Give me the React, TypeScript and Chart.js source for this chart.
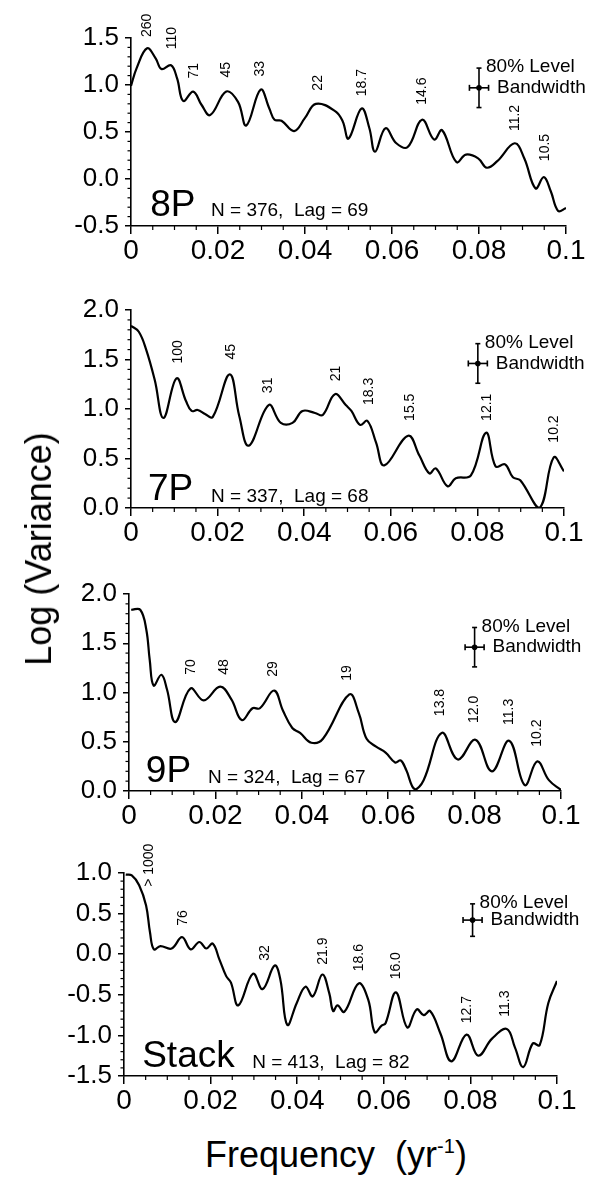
import React, { useEffect, useRef } from "react";
import { Chart, registerables } from "chart.js";
Chart.register(...registerables);

const FONT = '"Liberation Sans", Arial, Helvetica, sans-serif';

// shared x axis
const xTickValues = [0, 0.02, 0.04, 0.06, 0.08, 0.1];
const xTickLabels = ["0", "0.02", "0.04", "0.06", "0.08", "0.1"];

// ---------- 8P ----------
const freq8P = [0, 0.0013, 0.0037, 0.0057, 0.007, 0.0092, 0.0106, 0.012, 0.0143, 0.0162, 0.0182, 0.0219, 0.0246, 0.0265, 0.0298, 0.0318, 0.033, 0.0346, 0.0375, 0.04, 0.0425, 0.047, 0.0487, 0.05, 0.053, 0.0548, 0.0561, 0.0585, 0.061, 0.0636, 0.0669, 0.0697, 0.0715, 0.0748, 0.077, 0.0798, 0.0818, 0.0842, 0.0882, 0.0904, 0.093, 0.0949, 0.0965, 0.0982, 0.1];
const logVar8P = [0.99, 1.18, 1.39, 1.28, 1.17, 1.21, 1.07, 0.83, 0.93, 0.79, 0.68, 0.93, 0.82, 0.57, 0.95, 0.75, 0.63, 0.62, 0.51, 0.65, 0.8, 0.72, 0.61, 0.43, 0.75, 0.54, 0.29, 0.54, 0.38, 0.34, 0.63, 0.42, 0.52, 0.18, 0.26, 0.22, 0.12, 0.19, 0.38, 0.22, -0.1, 0.02, -0.13, -0.34, -0.31];
const yTicks8P = [-0.5, 0, 0.5, 1.0, 1.5];
const yTickLabels8P = ["-0.5", "0.0", "0.5", "1.0", "1.5"];
const periods8P = ["260", "110", "71", "45", "33", "22", "18.7", "14.6", "11.2", "10.5"];
const periodFreq8P = [0.0037, 0.0094, 0.0145, 0.0219, 0.0298, 0.043, 0.0531, 0.0669, 0.0884, 0.0951];
const periodBase8P = [1.51, 1.38, 1.07, 1.08, 1.09, 0.94, 0.88, 0.79, 0.51, 0.19];

// ---------- 7P ----------
const freq7P = [0, 0.0018, 0.0035, 0.0055, 0.0075, 0.0105, 0.0127, 0.014, 0.0154, 0.0171, 0.0189, 0.0228, 0.025, 0.0272, 0.0318, 0.0346, 0.0373, 0.0396, 0.0425, 0.0443, 0.0471, 0.0496, 0.0509, 0.0529, 0.0546, 0.0566, 0.0585, 0.064, 0.0666, 0.0689, 0.0704, 0.0731, 0.075, 0.0785, 0.082, 0.0842, 0.0864, 0.0882, 0.0899, 0.0943, 0.0976, 0.1];
const logVar7P = [1.84, 1.78, 1.6, 1.29, 0.91, 1.31, 1.08, 0.98, 0.99, 0.95, 0.92, 1.35, 0.93, 0.63, 1.04, 0.86, 0.86, 0.98, 0.96, 0.94, 1.15, 1.04, 0.98, 0.84, 0.88, 0.66, 0.43, 0.73, 0.53, 0.35, 0.4, 0.22, 0.3, 0.33, 0.76, 0.42, 0.44, 0.31, 0.28, 0.0, 0.51, 0.37];
const yTicks7P = [0, 0.5, 1.0, 1.5, 2.0];
const yTickLabels7P = ["0.0", "0.5", "1.0", "1.5", "2.0"];
const periods7P = ["100", "45", "31", "21", "18.3", "15.5", "12.1", "10.2"];
const periodFreq7P = [0.0108, 0.0232, 0.0316, 0.0474, 0.055, 0.0645, 0.0823, 0.0978];
const periodBase7P = [1.46, 1.5, 1.16, 1.28, 1.04, 0.88, 0.88, 0.66];

// ---------- 9P ----------
const freq9P = [0.0005, 0.0026, 0.004, 0.0048, 0.0057, 0.0075, 0.0088, 0.0107, 0.0142, 0.0173, 0.0211, 0.0237, 0.0261, 0.0286, 0.0303, 0.0336, 0.0356, 0.0378, 0.0396, 0.0422, 0.0449, 0.051, 0.0532, 0.055, 0.0572, 0.0594, 0.0616, 0.0629, 0.0642, 0.0661, 0.0682, 0.0724, 0.0761, 0.0802, 0.084, 0.088, 0.0916, 0.0945, 0.0972, 0.1];
const logVar9P = [1.84, 1.84, 1.64, 1.33, 1.07, 1.18, 1.03, 0.7, 1.04, 0.92, 1.06, 0.93, 0.72, 0.84, 0.84, 1.02, 0.82, 0.64, 0.59, 0.49, 0.53, 0.98, 0.79, 0.53, 0.45, 0.39, 0.29, 0.31, 0.21, 0.02, 0.11, 0.59, 0.32, 0.52, 0.2, 0.51, 0.06, 0.3, 0.11, 0.01];
const yTicks9P = [0, 0.5, 1.0, 1.5, 2.0];
const yTickLabels9P = ["0.0", "0.5", "1.0", "1.5", "2.0"];
const periods9P = ["70", "48", "29", "19", "13.8", "12.0", "11.3", "10.2"];
const periodFreq9P = [0.0145, 0.022, 0.0334, 0.0506, 0.0721, 0.08, 0.088, 0.0945];
const periodBase9P = [1.18, 1.18, 1.16, 1.12, 0.76, 0.69, 0.67, 0.45];

// ---------- Stack ----------
const freqStack = [0.0004, 0.0018, 0.0035, 0.0051, 0.006, 0.0069, 0.0084, 0.011, 0.0134, 0.0154, 0.0174, 0.019, 0.0205, 0.022, 0.0236, 0.0247, 0.0264, 0.0298, 0.032, 0.0348, 0.0361, 0.0377, 0.0399, 0.0419, 0.0436, 0.0458, 0.0474, 0.0483, 0.0493, 0.0509, 0.0542, 0.0564, 0.0579, 0.0595, 0.0604, 0.0628, 0.0654, 0.0676, 0.0692, 0.0707, 0.0731, 0.0756, 0.0791, 0.0818, 0.085, 0.0884, 0.0903, 0.0922, 0.0944, 0.096, 0.098, 0.1];
const logVarStack = [0.98, 0.97, 0.85, 0.6, 0.27, 0.06, 0.1, 0.07, 0.21, 0.06, 0.15, 0.07, 0.13, -0.06, -0.27, -0.35, -0.63, -0.24, -0.43, -0.14, -0.31, -0.87, -0.6, -0.4, -0.52, -0.25, -0.48, -0.7, -0.63, -0.71, -0.36, -0.56, -0.96, -0.88, -0.85, -0.47, -0.9, -0.68, -0.75, -0.7, -0.98, -1.32, -0.99, -1.25, -1.04, -0.92, -1.15, -1.39, -1.1, -1.12, -0.6, -0.33];
const yTicksStack = [-1.5, -1.0, -0.5, 0, 0.5, 1.0];
const yTickLabelsStack = ["-1.5", "-1.0", "-0.5", "0.0", "0.5", "1.0"];
const periodsStack = ["> 1000", "76", "32", "21.9", "18.6", "16.0", "12.7", "11.3"];
const periodFreqStack = [0.0057, 0.0137, 0.0326, 0.046, 0.0542, 0.0628, 0.0793, 0.0881];
const periodBaseStack = [0.83, 0.35, -0.08, -0.13, -0.21, -0.31, -0.85, -0.77];

// panel names / info
const panelNames = ["8P", "7P", "9P", "Stack"];
const panelInfo = ["N = 376,  Lag = 69", "N = 337,  Lag = 68", "N = 324,  Lag = 67", "N = 413,  Lag = 82"];
// error bar centre (freq, logVar) and half sizes
const barCentreFreq = [0.08, 0.0801, 0.08, 0.0805];
const barCentreVal = [0.97, 1.46, 1.46, 0.42];
const barHalfVal = [0.21, 0.2, 0.2, 0.2];
const barHalfFreq = [0.0022, 0.0022, 0.0022, 0.0022];
// label anchors in data coords
const nameAnchor = [[0.0044, -0.39], [0.0039, 0.08], [0.0039, 0.09], [0.0042, -1.39]];
const infoAnchor = [[0.0184, -0.39], [0.0185, 0.06], [0.0183, 0.08], [0.0296, -1.4]];

const series = [
  { freq: freq8P, v: logVar8P, yt: yTicks8P, yl: yTickLabels8P, p: periods8P, pf: periodFreq8P, pb: periodBase8P },
  { freq: freq7P, v: logVar7P, yt: yTicks7P, yl: yTickLabels7P, p: periods7P, pf: periodFreq7P, pb: periodBase7P },
  { freq: freq9P, v: logVar9P, yt: yTicks9P, yl: yTickLabels9P, p: periods9P, pf: periodFreq9P, pb: periodBase9P },
  { freq: freqStack, v: logVarStack, yt: yTicksStack, yl: yTickLabelsStack, p: periodsStack, pf: periodFreqStack, pb: periodBaseStack },
];

// layout (pixels)
const layouts = [
  { canvasTop: 0, canvasHeight: 265, left: 131, right: 566, top: 38, bottom: 226 },
  { canvasTop: 272, canvasHeight: 278, left: 131, right: 564, top: 310, bottom: 508 },
  { canvasTop: 556, canvasHeight: 274, left: 129, right: 561, top: 594, bottom: 791 },
  { canvasTop: 830, canvasHeight: 290, left: 124, right: 557, top: 873, bottom: 1076 },
];

function makeOverlay(i: number) {
  const s = series[i];
  return {
    id: "overlay" + i,
    afterDraw(chart: any) {
      const ctx = chart.ctx as CanvasRenderingContext2D;
      const xs = chart.scales.x;
      const ys = chart.scales.y;
      const a = chart.chartArea;
      const line = (x1: number, y1: number, x2: number, y2: number) => {
        ctx.beginPath();
        ctx.moveTo(x1, y1);
        ctx.lineTo(x2, y2);
        ctx.stroke();
      };
      ctx.save();
      ctx.strokeStyle = "#000";
      ctx.fillStyle = "#000";
      ctx.lineWidth = 1.2;
      // minor y ticks (every 0.1)
      const yMin = s.yt[0];
      const yMax = s.yt[s.yt.length - 1];
      const nY = Math.round((yMax - yMin) / 0.1);
      for (let k = 0; k <= nY; k++) {
        if (k % 5 === 0) continue;
        const py = ys.getPixelForValue(yMin + k * 0.1);
        line(a.left - 3.5, py, a.left, py);
      }
      // minor x ticks (every 0.005)
      for (let k = 0; k <= 20; k++) {
        if (k % 4 === 0) continue;
        const px = xs.getPixelForValue(k * 0.005);
        line(px, a.bottom, px, a.bottom + 4);
      }
      // period labels (rotated)
      ctx.font = `14px ${FONT}`;
      ctx.textAlign = "left";
      ctx.textBaseline = "middle";
      s.p.forEach((t, k) => {
        const x = xs.getPixelForValue(s.pf[k]);
        const y = ys.getPixelForValue(s.pb[k]);
        ctx.save();
        ctx.translate(x, y);
        ctx.rotate(-Math.PI / 2);
        ctx.fillText(t, 0, 0);
        ctx.restore();
      });
      // panel name & info
      ctx.textBaseline = "alphabetic";
      ctx.font = `37px ${FONT}`;
      ctx.fillText(panelNames[i], xs.getPixelForValue(nameAnchor[i][0]), ys.getPixelForValue(nameAnchor[i][1]));
      ctx.font = `19px ${FONT}`;
      ctx.fillText(panelInfo[i], xs.getPixelForValue(infoAnchor[i][0]), ys.getPixelForValue(infoAnchor[i][1]));
      // error bar
      const cx = xs.getPixelForValue(barCentreFreq[i]);
      const cy = ys.getPixelForValue(barCentreVal[i]);
      const yt = ys.getPixelForValue(barCentreVal[i] + barHalfVal[i]);
      const yb = ys.getPixelForValue(barCentreVal[i] - barHalfVal[i]);
      const xl = xs.getPixelForValue(barCentreFreq[i] - barHalfFreq[i]);
      const xr = xs.getPixelForValue(barCentreFreq[i] + barHalfFreq[i]);
      ctx.lineWidth = 1.6;
      line(cx, yt, cx, yb);
      line(cx - 2.5, yt, cx + 2.5, yt);
      line(cx - 2.5, yb, cx + 2.5, yb);
      line(xl, cy, xr, cy);
      line(xl, cy - 3, xl, cy + 3);
      line(xr, cy - 3, xr, cy + 3);
      ctx.beginPath();
      ctx.arc(cx, cy, 2.8, 0, Math.PI * 2);
      ctx.fill();
      ctx.font = `19px ${FONT}`;
      ctx.textBaseline = "middle";
      ctx.fillText("80% Level", cx + 7, yt - 1);
      ctx.fillText("Bandwidth", cx + 18, cy);
      ctx.restore();
    },
  };
}

function Panel({ index }: { index: number }) {
  const ref = useRef<HTMLCanvasElement | null>(null);
  const L = layouts[index];
  useEffect(() => {
    if (!ref.current) return;
    const s = series[index];
    const chart = new Chart(ref.current, {
      type: "line",
      data: {
        datasets: [
          {
            data: s.freq.map((f, k) => ({ x: f, y: s.v[k] })),
            borderColor: "#000",
            borderWidth: 2.2,
            pointRadius: 0,
            tension: 0.4,
            fill: false,
          },
        ],
      },
      options: {
        animation: false,
        responsive: false,
        maintainAspectRatio: false,
        devicePixelRatio: 1,
        events: [],
        layout: { padding: { left: 0, right: 595 - L.right, top: L.top - L.canvasTop, bottom: 0 } },
        plugins: { legend: { display: false }, tooltip: { enabled: false } },
        scales: {
          x: {
            type: "linear",
            min: 0,
            max: 0.1,
            afterBuildTicks: (sc: any) => {
              sc.ticks = xTickValues.map((v) => ({ value: v }));
            },
            afterFit: (sc: any) => {
              sc.height = L.canvasTop + L.canvasHeight - L.bottom;
            },
            grid: { drawOnChartArea: false, drawTicks: true, tickLength: 8, color: "#000", lineWidth: 1.5 },
            border: { display: true, color: "#000", width: 1.6 },
            ticks: {
              color: "#000",
              font: { family: FONT, size: 28 },
              padding: 0,
              maxRotation: 0,
              autoSkip: false,
              callback: (_v: any, k: number) => xTickLabels[k],
            },
          },
          y: {
            type: "linear",
            min: s.yt[0],
            max: s.yt[s.yt.length - 1],
            afterBuildTicks: (sc: any) => {
              sc.ticks = s.yt.map((v) => ({ value: v }));
            },
            afterFit: (sc: any) => {
              sc.width = L.left;
            },
            grid: { drawOnChartArea: false, drawTicks: true, tickLength: 6, color: "#000", lineWidth: 1.5 },
            border: { display: true, color: "#000", width: 1.6 },
            ticks: {
              color: "#000",
              font: { family: FONT, size: 26 },
              padding: 6,
              autoSkip: false,
              callback: (_v: any, k: number) => s.yl[k],
            },
          },
        },
      },
      plugins: [makeOverlay(index)],
    } as any);
    return () => chart.destroy();
  }, [index]);
  return (
    <canvas
      ref={ref}
      width={595}
      height={L.canvasHeight}
      style={{ position: "absolute", left: 0, top: L.canvasTop, width: 595, height: L.canvasHeight, display: "block" }}
    />
  );
}

export default function App() {
  return (
    <div style={{ position: "absolute", left: 0, top: 0, width: 595, height: 1180, background: "#fff", overflow: "hidden" }}>
      {[0, 1, 2, 3].map((i) => (
        <Panel key={i} index={i} />
      ))}
      <div
        style={{
          position: "absolute",
          left: 39,
          top: 549,
          transform: "translate(-50%, -50%) rotate(-90deg)",
          font: `36px ${FONT}`,
          lineHeight: "36px",
          whiteSpace: "nowrap",
          color: "#000",
        }}
      >
        Log (Variance)
      </div>
      <div
        style={{
          position: "absolute",
          left: 205,
          top: 1137,
          font: `36px ${FONT}`,
          lineHeight: "36px",
          whiteSpace: "pre",
          color: "#000",
        }}
      >
        {"Frequency  (yr"}
        <span style={{ fontSize: 20, position: "relative", top: -14 }}>-1</span>
        {")"}
      </div>
    </div>
  );
}
